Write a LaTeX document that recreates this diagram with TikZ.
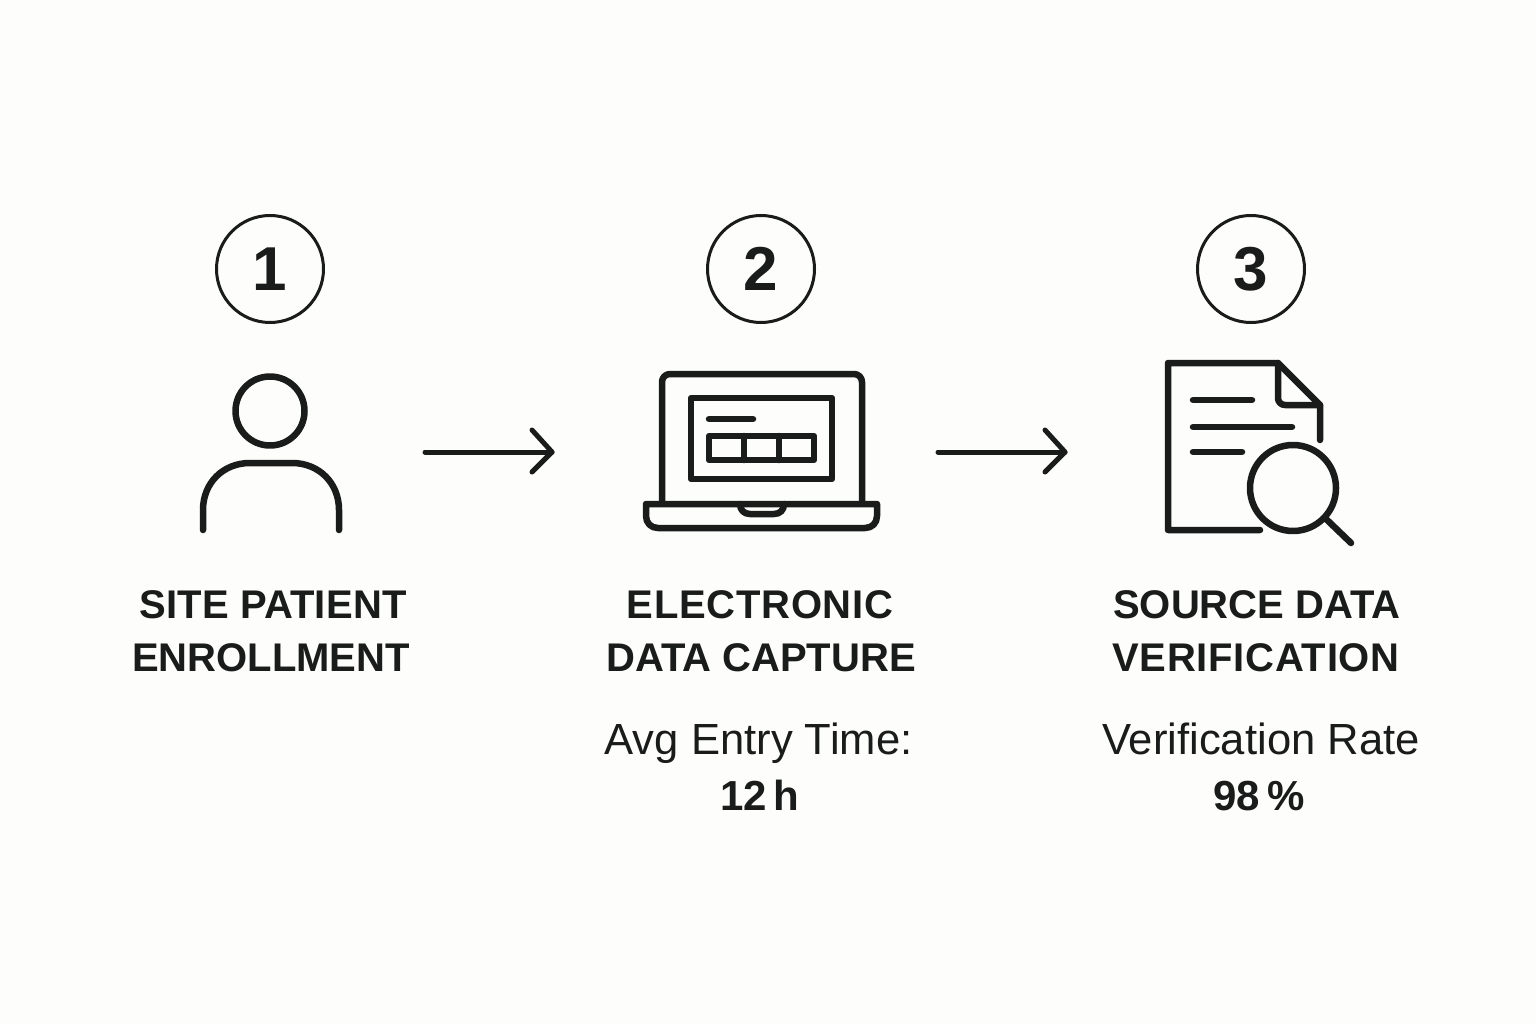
\documentclass[tikz,border=0pt]{standalone}
\usepackage{fontspec}
\setmainfont{Liberation Sans}
\definecolor{ink}{HTML}{1A1C1C}
\definecolor{paper}{HTML}{FDFDFB}
\tikzset{
 icon/.style={draw=ink,line width=6.5pt,line cap=round,line join=round},
 ring/.style={circle,draw=ink,line width=3pt,minimum size=107pt,inner sep=0pt,text=ink,font=\fontsize{62}{62}\selectfont\bfseries},
 title/.style={anchor=base,text=ink,inner sep=0pt,font=\fontsize{40}{40}\selectfont\bfseries},
 sub/.style={anchor=base,text=ink,inner sep=0pt,font=\fontsize{43.6}{44}\selectfont},
 val/.style={anchor=base,text=ink,inner sep=0pt,font=\fontsize{42}{42}\selectfont\bfseries},
}
\begin{document}
\begin{tikzpicture}[x=1pt,y=-1pt]
\path[fill=paper] (0,0) rectangle (1536,1024);
\useasboundingbox (0,0) rectangle (1536,1024);
\node[ring] (n1) at (270,269) {1};
\node[ring] (n2) at (761,269) {2};
\node[ring] (n3) at (1251,269) {3};
% person
\draw[icon] (270,411) circle (34.5);
\draw[icon] (203,530) -- (203,510) .. controls (203,483) and (223,463) .. (250,463) -- (292,463) .. controls (319,463) and (339,483) .. (339,510) -- (339,530);
% laptop
\draw[icon,rounded corners=8pt] (662,503) -- (662,374) -- (862,374) -- (862,503);
\draw[icon] (691,398) rectangle (832,479);
\draw[icon] (709,419) -- (753,419);
\draw[icon] (709,436) rectangle (814,460);
\draw[icon] (744,436) -- (744,460) (779,436) -- (779,460);
\draw[icon] (646,504) -- (877,504) -- (877,516) .. controls (877,523) and (872,528) .. (865,528) -- (658,528) .. controls (651,528) and (646,523) .. (646,516) -- cycle;
\draw[icon] (740,504) .. controls (740,510) and (744,514) .. (750,514) -- (774,514) .. controls (780,514) and (784,510) .. (784,504);
% document
\draw[icon] (1260,530) -- (1168,530) -- (1168,363) -- (1278,363) -- (1320,405) -- (1320,440);
\draw[icon] (1278,363) -- (1278,398) .. controls (1278,402) and (1281,405) .. (1285,405) -- (1320,405);
\draw[icon] (1193,400) -- (1252,400);
\draw[icon] (1193,427) -- (1292,427);
\draw[icon] (1193,452) -- (1242,452);
\draw[icon] (1293,488) circle (43);
\draw[icon] (1325,518) -- (1351,543);
% arrows
\coordinate (a1s) at (425,452); \coordinate (a1e) at (552,452);
\coordinate (a2s) at (938,452); \coordinate (a2e) at (1065,452);
\draw[icon,line width=5pt] (a1s) -- (a1e);
\draw[icon,line width=5pt] ([shift={(-20,-22)}]a1e) -- (a1e) -- ([shift={(-20,20)}]a1e);
\draw[icon,line width=5pt] (a2s) -- (a2e);
\draw[icon,line width=5pt] ([shift={(-20,-22)}]a2e) -- (a2e) -- ([shift={(-20,20)}]a2e);
% text
\node[title] (t1a) at (273,618) {\addfontfeature{LetterSpace=0.6}SITE PATIENT};
\node[title] (t1b) at (271,671) {ENROLLMENT};
\node[title] (t2a) at (760,618) {\addfontfeature{LetterSpace=1.8}ELECTRONIC};
\node[title] (t2b) at (761,671) {DATA CAPTURE};
\node[title] (t3a) at (1257,618) {SOURCE DATA};
\node[title] (t3b) at (1256,671) {\addfontfeature{LetterSpace=1.8}VERIFICATION};
\node[sub] (s2) at (758.5,754) {Avg Entry Time:};
\node[val] (v2) at (760,810) {12\,h};
\node[sub] (s3) at (1261,754) {Verification Rate};
\node[val] (v3) at (1259,810) {98\,\%};
\end{tikzpicture}
\end{document}
